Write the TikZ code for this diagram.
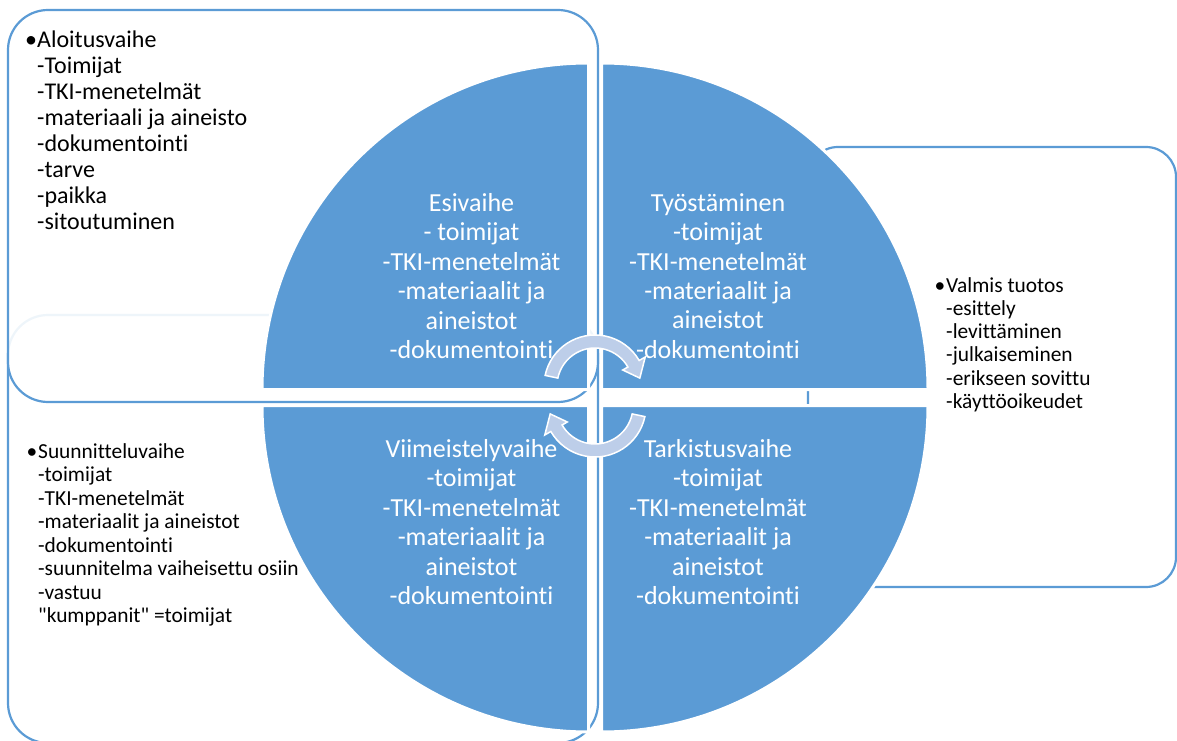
\documentclass[tikz,border=0pt]{standalone}
\usepackage{fontspec}
\setmainfont{Carlito}[Ligatures={TeXOff,NoCommon}]
\definecolor{qblue}{RGB}{91,155,213}
\definecolor{arrowfill}{RGB}{189,206,233}
\tikzset{
  boxline/.style={draw=qblue, line width=2.2pt},
  quad/.style={fill=qblue, draw=white, line width=3pt},
  quadtext/.style={text=white, align=center, inner sep=0pt,
    font=\fontsize{26}{29.4}\selectfont},
  sidetext/.style={text=black, align=left, anchor=north west, inner sep=0pt},
  cycarrow/.pic={
    \filldraw[fill=arrowfill, draw=white, line width=1.5pt]
      (168:51) arc[start angle=168, end angle=30, radius=51]
      -- (30:58) -- (10:45.5) -- (30:32) -- (30:38)
      arc[start angle=30, end angle=168, radius=38] -- cycle;
  }
}
\begin{document}
\begin{tikzpicture}[x=1pt,y=1pt]
\useasboundingbox (0,0) rectangle (1177,740);
% outer boxes
\draw[boxline, rounded corners=40pt] (8,-3) rectangle (598,425);
\draw[boxline, rounded corners=30pt] (808,153) rectangle (1176,593);
\fill[white, opacity=0.9, rounded corners=40pt] (8,338) rectangle (598,730);
\draw[boxline, rounded corners=40pt] (8,338) rectangle (598,730);
% quadrants
\path[quad] (588.5,350.5) -- (262,350.5) arc[start angle=180, end angle=90, radius=326.5] -- cycle;
\path[quad] (601.5,350.5) -- (601.5,677) arc[start angle=90, end angle=0, radius=326.5] -- cycle;
\path[quad] (588.5,334.5) -- (262,334.5) arc[start angle=180, end angle=270, radius=326.5] -- cycle;
\path[quad] (601.5,334.5) -- (928,334.5) arc[start angle=0, end angle=-90, radius=326.5] -- cycle;
% quadrant texts
\node[quadtext] (esi) at (471.5,464) {Esivaihe\\- toimijat\\-TKI-menetelmät\\-materiaalit ja\\aineistot\\-dokumentointi};
\node[quadtext] (tyo) at (718,464) {Työstäminen\\-toimijat\\-TKI-menetelmät\\-materiaalit ja\\aineistot\\-dokumentointi};
\node[quadtext] (vii) at (471.5,218) {Viimeistelyvaihe\\-toimijat\\-TKI-menetelmät\\-materiaalit ja\\aineistot\\-dokumentointi};
\node[quadtext] (tar) at (718,218) {Tarkistusvaihe\\-toimijat\\-TKI-menetelmät\\-materiaalit ja\\aineistot\\-dokumentointi};
% side texts
\node[sidetext, font=\fontsize{24}{26}\selectfont] (alo) at (37,709)
  {\llap{•}Aloitusvaihe\\-Toimijat\\-TKI-menetelmät\\-materiaali ja aineisto\\-dokumentointi\\-tarve\\-paikka\\-sitoutuminen};
\node[sidetext, font=\fontsize{21.4}{23.3}\selectfont] (val) at (946,463)
  {\llap{•\hspace{1pt}}Valmis tuotos\\-esittely\\-levittäminen\\-julkaiseminen\\-erikseen sovittu\\-käyttöoikeudet};
\node[sidetext, font=\fontsize{21.4}{23.5}\selectfont] (suu) at (38,297)
  {\llap{•\hspace{1pt}}Suunnitteluvaihe\\-toimijat\\-TKI-menetelmät\\-materiaalit ja aineistot\\-dokumentointi\\-suunnitelma vaiheisettu osiin\\-vastuu\\"kumppanit" =toimijat};
% cycle arrows
\pic at (595,354) {cycarrow};
\pic[rotate=180] at (595,334) {cycarrow};
\end{tikzpicture}
\end{document}
